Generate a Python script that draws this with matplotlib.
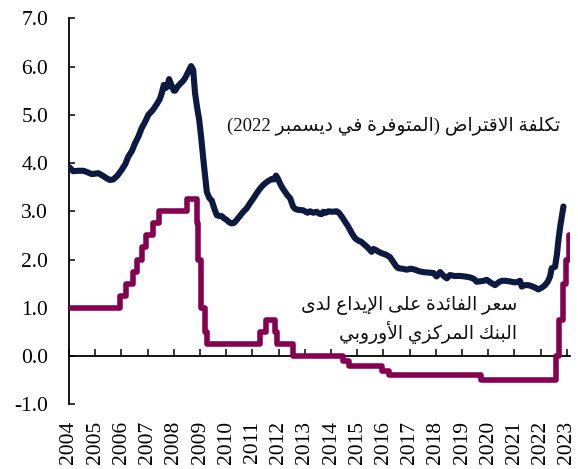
import re
import matplotlib
matplotlib.use('Agg')
import matplotlib.pyplot as plt

plt.rcParams['axes.unicode_minus'] = False
plt.rcParams['font.family'] = ['Liberation Serif', 'DejaVu Sans']

# ---------------- data ----------------
years = list(range(2004, 2024))
year_labels = [str(y) for y in years]
y_ticks = [-1, 0, 1, 2, 3, 4, 5, 6, 7]
y_tick_labels = ['-1.0', '0.0', '1.0', '2.0', '3.0', '4.0', '5.0', '6.0', '7.0']

# composite cost of borrowing (decimal year, %)
cost_t = [2004.00, 2004.16, 2004.35, 2004.55, 2004.75, 2004.87, 2005.12, 2005.31, 2005.45,
          2005.56, 2005.69, 2005.85, 2006.01, 2006.15, 2006.26, 2006.40, 2006.52, 2006.65,
          2006.77, 2006.90, 2007.03, 2007.20, 2007.35, 2007.47, 2007.54, 2007.62, 2007.67,
          2007.75, 2007.82, 2007.92, 2008.00, 2008.05, 2008.14, 2008.24, 2008.35, 2008.43,
          2008.56, 2008.66, 2008.74, 2008.81, 2008.89, 2008.97, 2009.05, 2009.13, 2009.20,
          2009.26, 2009.35, 2009.45, 2009.55, 2009.64, 2009.75, 2009.83, 2009.93, 2010.02,
          2010.12, 2010.21, 2010.30, 2010.40, 2010.52, 2010.65, 2010.78, 2010.91, 2011.04,
          2011.16, 2011.29, 2011.42, 2011.58, 2011.74, 2011.82, 2011.90, 2011.97, 2012.05,
          2012.15, 2012.24, 2012.34, 2012.44, 2012.55, 2012.63, 2012.75, 2012.94, 2013.10,
          2013.20, 2013.32, 2013.45, 2013.55, 2013.64, 2013.71, 2013.80, 2013.90, 2014.05,
          2014.22, 2014.30, 2014.41, 2014.53, 2014.66, 2014.80, 2014.92, 2015.05, 2015.15,
          2015.23, 2015.40, 2015.55, 2015.62, 2015.70, 2015.82, 2015.94, 2016.10, 2016.25,
          2016.40, 2016.50, 2016.57, 2016.72, 2016.89, 2017.05, 2017.21, 2017.35, 2017.52,
          2017.70, 2017.91, 2018.03, 2018.16, 2018.30, 2018.42, 2018.54, 2018.70, 2018.92,
          2019.10, 2019.31, 2019.45, 2019.56, 2019.70, 2019.83, 2019.94, 2020.10, 2020.26,
          2020.40, 2020.52, 2020.64, 2020.80, 2020.96, 2021.10, 2021.21, 2021.28, 2021.40,
          2021.53, 2021.65, 2021.78, 2021.91, 2022.05, 2022.17, 2022.28, 2022.36, 2022.42,
          2022.55, 2022.62, 2022.68, 2022.75, 2022.87]
cost_v = [3.92, 3.83, 3.84, 3.84, 3.80, 3.77, 3.79, 3.73, 3.68,
          3.65, 3.66, 3.74, 3.86, 3.98, 4.13, 4.25, 4.41, 4.55,
          4.72, 4.85, 5.00, 5.10, 5.22, 5.33, 5.45, 5.62, 5.55,
          5.58, 5.74, 5.60, 5.50, 5.50, 5.58, 5.64, 5.70, 5.76,
          5.90, 6.01, 5.93, 5.45, 5.15, 4.89, 4.50, 4.06, 3.70,
          3.40, 3.28, 3.22, 3.05, 2.92, 2.90, 2.90, 2.85, 2.82,
          2.77, 2.75, 2.76, 2.82, 2.90, 2.99, 3.06, 3.17, 3.27,
          3.37, 3.47, 3.55, 3.62, 3.67, 3.66, 3.74, 3.68, 3.58,
          3.48, 3.41, 3.33, 3.27, 3.10, 3.05, 3.03, 3.02, 2.97,
          3.00, 2.97, 2.99, 2.95, 2.94, 2.99, 2.97, 3.00, 2.99,
          3.00, 2.97, 2.89, 2.79, 2.68, 2.54, 2.44, 2.39, 2.37,
          2.33, 2.25, 2.16, 2.22, 2.20, 2.16, 2.13, 2.10, 2.05,
          1.93, 1.85, 1.82, 1.81, 1.79, 1.81, 1.79, 1.76, 1.74,
          1.73, 1.72, 1.65, 1.74, 1.66, 1.61, 1.68, 1.66, 1.66,
          1.65, 1.63, 1.60, 1.54, 1.55, 1.56, 1.58, 1.52, 1.47,
          1.53, 1.56, 1.56, 1.55, 1.53, 1.53, 1.56, 1.44, 1.47,
          1.47, 1.45, 1.42, 1.38, 1.42, 1.47, 1.55, 1.65, 1.82,
          1.85, 2.10, 2.41, 2.70, 3.10]

# ECB deposit facility rate (change dates as decimal years, %)
ecb_t = [2004.00, 2005.93, 2006.19, 2006.45, 2006.61, 2006.78, 2006.95, 2007.19, 2007.45,
         2008.52, 2008.87, 2008.94, 2009.05, 2009.19, 2009.27, 2011.28, 2011.53, 2011.86,
         2011.95, 2012.53, 2014.45, 2014.69, 2015.93, 2016.21, 2019.71, 2022.57, 2022.70,
         2022.84, 2022.97, 2023.10]
ecb_v = [1.00, 1.25, 1.50, 1.75, 2.00, 2.25, 2.50, 2.75, 3.00,
         3.25, 2.75, 2.00, 1.00, 0.50, 0.25, 0.50, 0.75, 0.50,
         0.25, 0.00, -0.10, -0.20, -0.30, -0.40, -0.50, 0.00, 0.75,
         1.50, 2.00, 2.50]

label_cost = "تكلفة الاقتراض (المتوفرة في ديسمبر 2022)"
label_ecb_1 = "سعر الفائدة على الإيداع لدى"
label_ecb_2 = "البنك المركزي الأوروبي"

# ---------------- Arabic shaping (presentation forms, visual order) ----------------
_TABLE = {
    '\u0621': (0xFE80, 1), '\u0622': (0xFE81, 2), '\u0623': (0xFE83, 2), '\u0624': (0xFE85, 2),
    '\u0625': (0xFE87, 2), '\u0626': (0xFE89, 4), '\u0627': (0xFE8D, 2), '\u0628': (0xFE8F, 4),
    '\u0629': (0xFE93, 2), '\u062A': (0xFE95, 4), '\u062B': (0xFE99, 4), '\u062C': (0xFE9D, 4),
    '\u062D': (0xFEA1, 4), '\u062E': (0xFEA5, 4), '\u062F': (0xFEA9, 2), '\u0630': (0xFEAB, 2),
    '\u0631': (0xFEAD, 2), '\u0632': (0xFEAF, 2), '\u0633': (0xFEB1, 4), '\u0634': (0xFEB5, 4),
    '\u0635': (0xFEB9, 4), '\u0636': (0xFEBD, 4), '\u0637': (0xFEC1, 4), '\u0638': (0xFEC5, 4),
    '\u0639': (0xFEC9, 4), '\u063A': (0xFECD, 4), '\u0641': (0xFED1, 4), '\u0642': (0xFED5, 4),
    '\u0643': (0xFED9, 4), '\u0644': (0xFEDD, 4), '\u0645': (0xFEE1, 4), '\u0646': (0xFEE5, 4),
    '\u0647': (0xFEE9, 4), '\u0648': (0xFEED, 2), '\u0649': (0xFEEF, 2), '\u064A': (0xFEF1, 4),
}
_LAMALEF = {'\u0622': 0xFEF5, '\u0623': 0xFEF7, '\u0625': 0xFEF9, '\u0627': 0xFEFB}


def shape(s):
    out = []
    i, n = 0, len(s)
    while i < n:
        c = s[i]
        if c not in _TABLE:
            out.append(c)
            i += 1
            continue
        prev = s[i - 1] if i > 0 else ''
        pj = prev in _TABLE and _TABLE[prev][1] == 4
        if c == '\u0644' and i + 1 < n and s[i + 1] in _LAMALEF:
            out.append(chr(_LAMALEF[s[i + 1]] + (1 if pj else 0)))
            i += 2
            continue
        start, k = _TABLE[c]
        nj = k == 4 and i + 1 < n and s[i + 1] in _TABLE
        if pj and nj:
            f = 3
        elif pj:
            f = 1 if k > 1 else 0
        elif nj:
            f = 2
        else:
            f = 0
        out.append(chr(start + f))
        i += 1
    shaped = ''.join(out)
    runs = re.findall(r'[0-9]+|[^0-9]+', shaped)
    mirror = {'(': ')', ')': '('}
    vis = []
    for r in reversed(runs):
        if r[0].isdigit():
            vis.append(r)
        else:
            vis.append(''.join(mirror.get(ch, ch) for ch in reversed(r)))
    return ''.join(vis)


# ---------------- figure ----------------
navy = '#0c1940'
maroon = '#850050'

fig = plt.figure(figsize=(5.78, 4.69), dpi=100)
ax = fig.add_axes([69 / 578, 1 - 404.3 / 469, (570 - 69) / 578, (404.3 - 18.3) / 469])

ax.plot(cost_t, cost_v, color=navy, lw=4.4, solid_joinstyle='round', solid_capstyle='round', zorder=3)
ax.step(ecb_t, ecb_v, where='post', color=maroon, lw=4.0, solid_joinstyle='round',
        solid_capstyle='round', zorder=3)

ax.set_xlim(2004, 2023.12)
ax.set_ylim(-1, 7)

for s in ['top', 'right']:
    ax.spines[s].set_visible(False)
ax.spines['left'].set_linewidth(1.3)
ax.spines['bottom'].set_position(('data', 0))
ax.spines['bottom'].set_linewidth(1.3)

ax.set_yticks(y_ticks)
ax.set_yticklabels(y_tick_labels, fontsize=15.5)
ax.tick_params(axis='y', direction='in', length=4.5, width=1.1, pad=15)

ax.set_xticks(years)
ax.tick_params(axis='x', direction='in', length=5, width=1.1, labelbottom=False)

sec = ax.secondary_xaxis('bottom')
sec.set_xticks(years)
sec.set_xticklabels(year_labels, rotation=90, fontsize=15.5)
sec.tick_params(axis='x', length=0, pad=12)
sec.spines['bottom'].set_visible(False)

ax.text(2022.74, 4.75, shape(label_cost), ha='right', va='center', fontsize=13.5,
        family=['Liberation Serif', 'DejaVu Sans'], color='#111111')
ax.text(2021.1, 1.04, shape(label_ecb_1), ha='right', va='center', fontsize=13.5,
        family=['Liberation Serif', 'DejaVu Sans'], color='#111111')
ax.text(2021.1, 0.48, shape(label_ecb_2), ha='right', va='center', fontsize=13.5,
        family=['Liberation Serif', 'DejaVu Sans'], color='#111111')

fig.savefig('out.png', dpi=100)
